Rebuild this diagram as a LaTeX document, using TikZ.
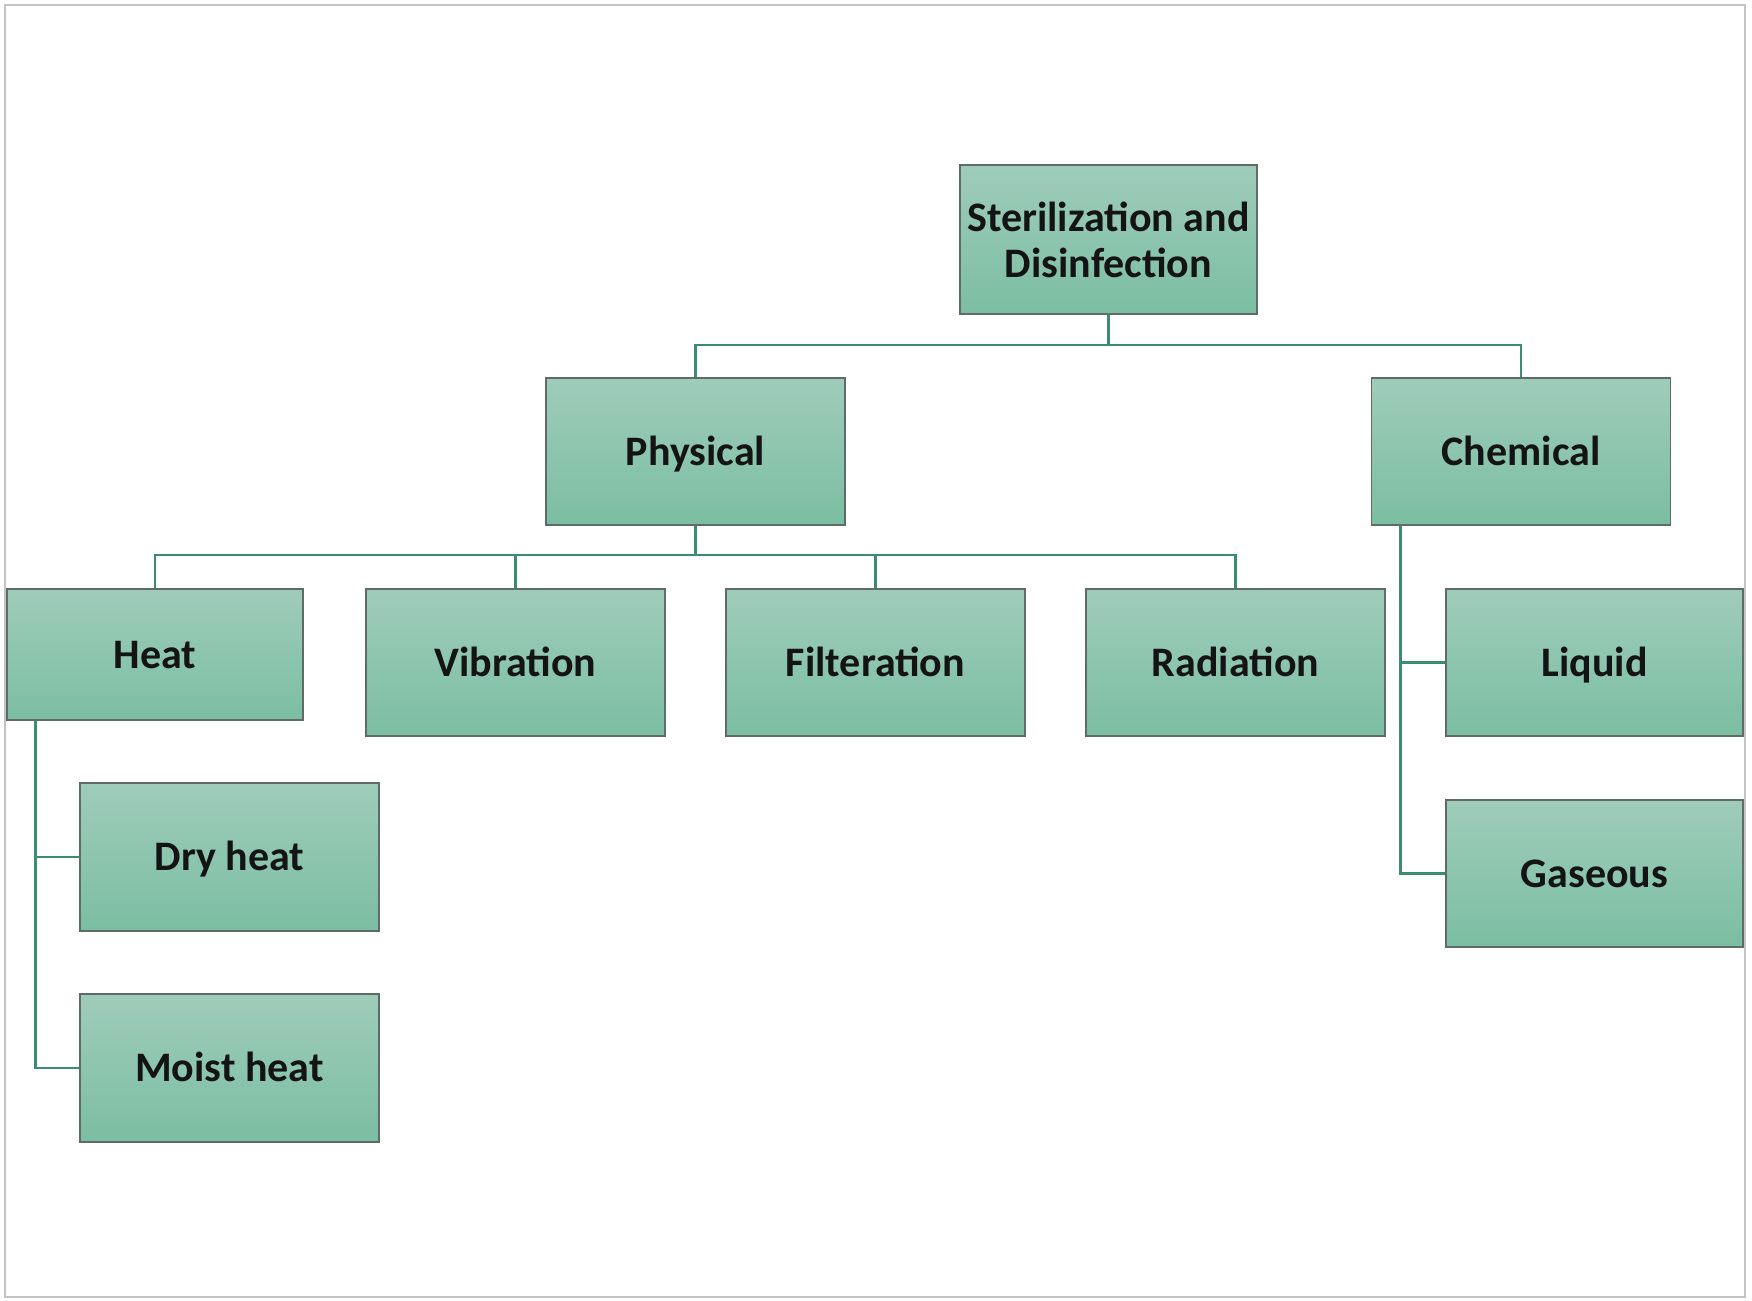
\documentclass[tikz,border=0pt]{standalone}
\usepackage{fontspec}
\setmainfont{Carlito}
\usetikzlibrary{positioning}
\definecolor{boxtop}{HTML}{9FCCBA}
\definecolor{boxbot}{HTML}{7BBEA2}
\definecolor{boxline}{HTML}{5E6B67}
\definecolor{conn}{HTML}{3A8C72}
\definecolor{frame}{HTML}{C4C4C4}
\tikzset{
  box/.style={draw=boxline, line width=1.5pt, top color=boxtop, bottom color=boxbot,
    inner sep=0pt, minimum width=299pt, minimum height=147pt, align=center,
    font=\fontsize{42}{46}\selectfont\bfseries, text=black!92},
  onebox/.style={box, text height=30pt, text depth=3pt},
  link/.style={draw=conn, line width=2.6pt}
}
\begin{document}
\begin{tikzpicture}[x=1pt,y=-1pt]
\useasboundingbox (0,0) rectangle (1752,1300);
\draw[frame, line width=2pt] (5,5) rectangle (1745,1297);

\node[box, minimum width=297pt, minimum height=149pt] (root) at (1108.5,239.5) {Sterilization and\\Disinfection};
\node[onebox] (phys) at (695.5,451.5) {Physical};
\node[onebox] (chem) at (1521,451.5) {Chemical};
\node[onebox, minimum width=296pt, minimum height=131pt] (heat) at (155,654.5) {Heat};
\node[onebox] (vib) at (515.5,662.5) {Vibration};
\node[onebox] (filt) at (875.5,662.5) {Filteration};
\node[onebox] (rad) at (1235.5,662.5) {Radiation};
\node[onebox, minimum width=297pt] (liq) at (1594.5,662.5) {Liquid};
\node[onebox, minimum width=297pt] (gas) at (1594.5,873.5) {Gaseous};
\node[onebox, minimum height=148pt] (dry) at (229.5,857) {Dry heat};
\node[onebox, minimum height=148pt] (moist) at (229.5,1068) {Moist heat};

\coordinate (b1) at (1108.5,345);
\coordinate (b2) at (695.5,555);
\draw[link] (root.south) -- (b1);
\draw[link] (b1) -| (phys.north);
\draw[link] (b1) -| (chem.north);
\draw[link] (phys.south) -- (b2);
\draw[link] (b2) -| (heat.north);
\draw[link] (b2) -| (vib.north);
\draw[link] (b2) -| (filt.north);
\draw[link] (b2) -| (rad.north);
\draw[link] ([xshift=30pt]chem.south west) |- (liq.west);
\draw[link] ([xshift=30pt]chem.south west) |- (gas.west);
\draw[link] ([xshift=29pt]heat.south west) |- (dry.west);
\draw[link] ([xshift=29pt]heat.south west) |- (moist.west);
\end{tikzpicture}
\end{document}
